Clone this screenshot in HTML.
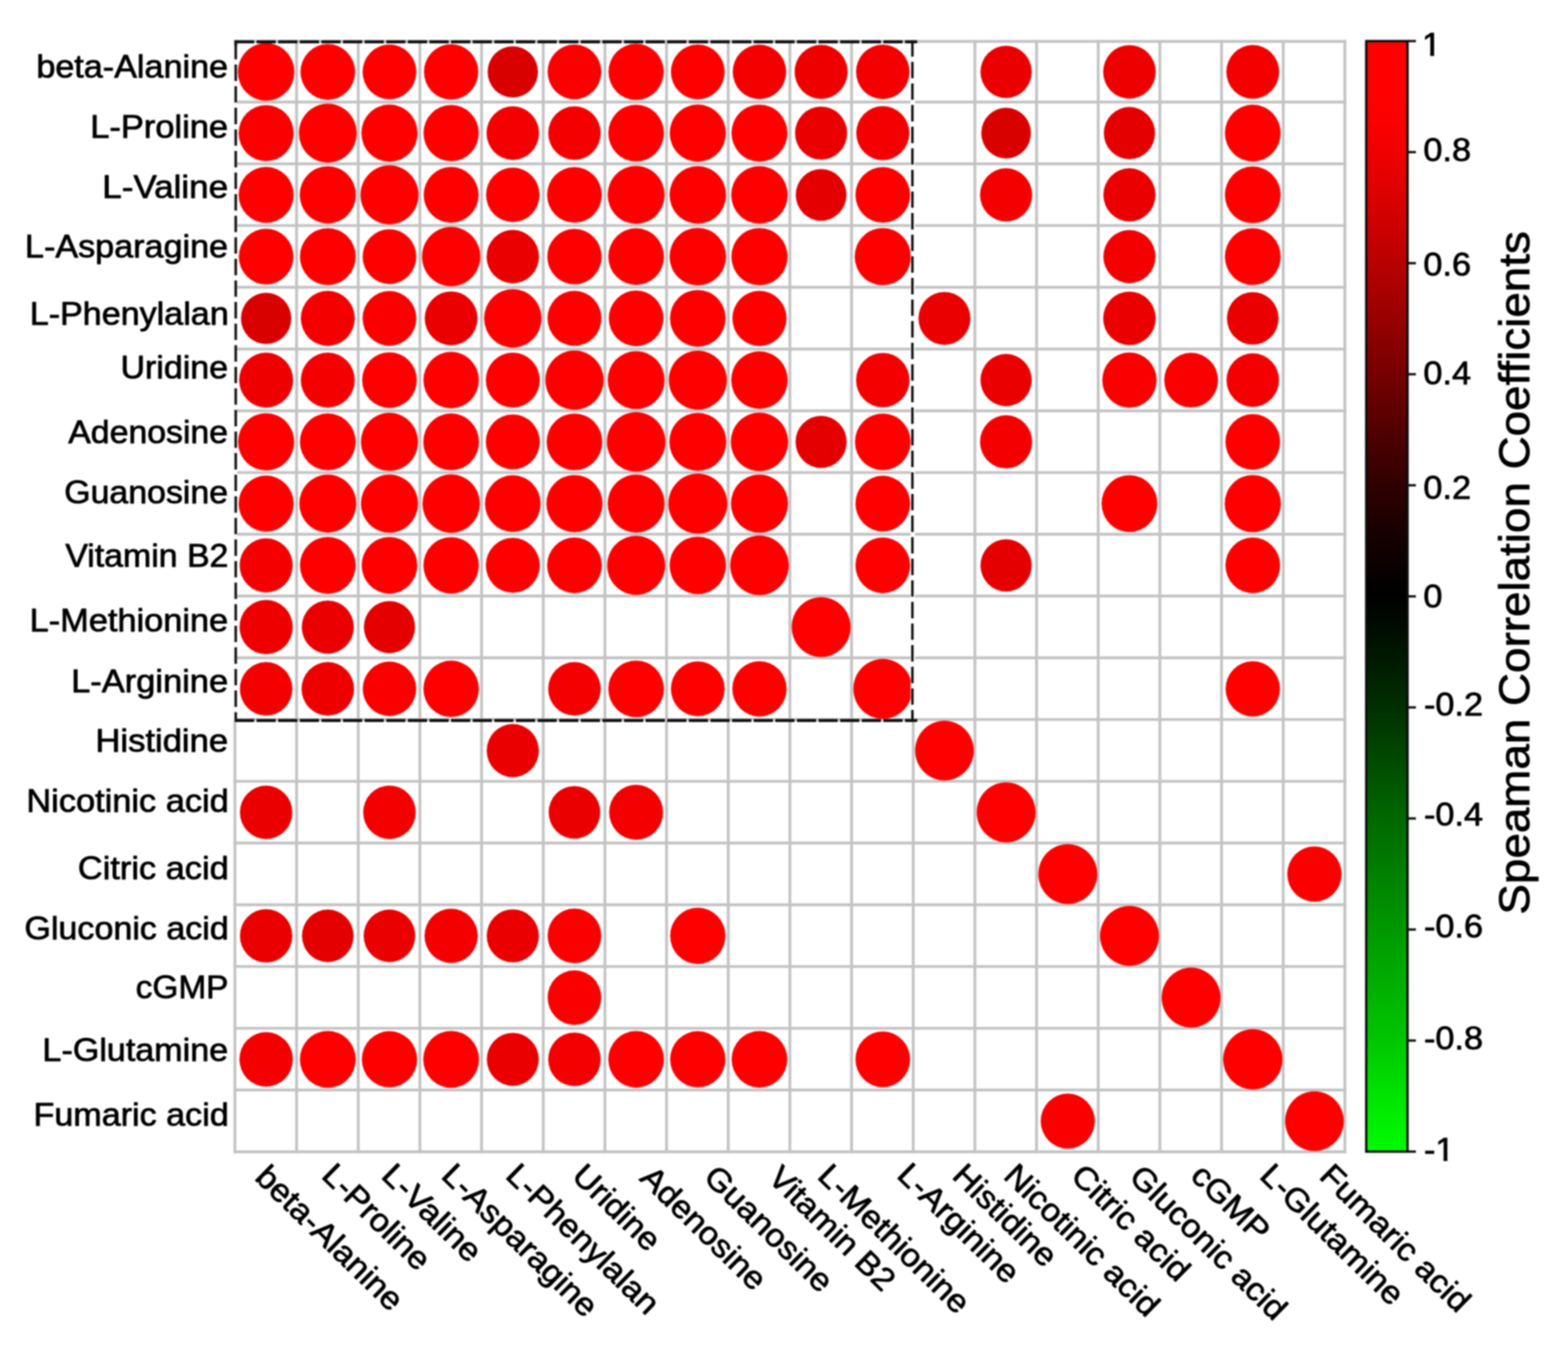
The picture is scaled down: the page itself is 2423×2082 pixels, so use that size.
<!DOCTYPE html>
<html lang="en"><head><meta charset="utf-8">
<title>Speaman Correlation Coefficients</title>
<style>
html,body{margin:0;padding:0;background:#fff;}
body{width:2423px;height:2082px;overflow:hidden;}
svg{display:block;}
text{font-family:"Liberation Sans",sans-serif;fill:#000;stroke:#000;stroke-width:1.1;stroke-linejoin:round;}
</style></head><body>
<svg width="2423" height="2082" viewBox="0 0 2423 2082">
<defs>
<linearGradient id="cb" x1="0" y1="0" x2="0" y2="1">
<stop offset="0.0000" stop-color="rgb(255,0,0)"/>
<stop offset="0.0500" stop-color="rgb(254,0,0)"/>
<stop offset="0.0750" stop-color="rgb(250,0,0)"/>
<stop offset="0.1000" stop-color="rgb(240,0,0)"/>
<stop offset="0.1500" stop-color="rgb(214,0,0)"/>
<stop offset="0.2000" stop-color="rgb(185,0,0)"/>
<stop offset="0.2500" stop-color="rgb(152,0,0)"/>
<stop offset="0.3000" stop-color="rgb(118,0,0)"/>
<stop offset="0.3500" stop-color="rgb(82,0,0)"/>
<stop offset="0.4000" stop-color="rgb(48,0,0)"/>
<stop offset="0.4500" stop-color="rgb(20,0,0)"/>
<stop offset="0.5000" stop-color="rgb(0,0,0)"/>
<stop offset="0.5500" stop-color="rgb(0,22,0)"/>
<stop offset="0.6000" stop-color="rgb(0,48,0)"/>
<stop offset="0.7000" stop-color="rgb(0,104,0)"/>
<stop offset="0.8000" stop-color="rgb(0,152,0)"/>
<stop offset="0.9000" stop-color="rgb(0,198,0)"/>
<stop offset="0.9500" stop-color="rgb(0,228,0)"/>
<stop offset="1.0000" stop-color="rgb(0,252,0)"/>
</linearGradient>
<filter id="soft" x="0" y="0" width="2423" height="2082" filterUnits="userSpaceOnUse" color-interpolation-filters="sRGB"><feGaussianBlur stdDeviation="1.15"/></filter>
</defs>
<rect x="0" y="0" width="2423" height="2082" fill="#ffffff"/>
<g filter="url(#soft)">
<rect x="0" y="0" width="2423" height="2082" fill="#ffffff"/>
<g stroke="#c3c3c3" stroke-width="4.4" fill="none" stroke-linecap="square">
<line x1="363.00" y1="64.00" x2="363.00" y2="1780.22"/>
<line x1="458.29" y1="64.00" x2="458.29" y2="1780.22"/>
<line x1="553.58" y1="64.00" x2="553.58" y2="1780.22"/>
<line x1="648.87" y1="64.00" x2="648.87" y2="1780.22"/>
<line x1="744.16" y1="64.00" x2="744.16" y2="1780.22"/>
<line x1="839.45" y1="64.00" x2="839.45" y2="1780.22"/>
<line x1="934.74" y1="64.00" x2="934.74" y2="1780.22"/>
<line x1="1030.03" y1="64.00" x2="1030.03" y2="1780.22"/>
<line x1="1125.32" y1="64.00" x2="1125.32" y2="1780.22"/>
<line x1="1220.61" y1="64.00" x2="1220.61" y2="1780.22"/>
<line x1="1315.90" y1="64.00" x2="1315.90" y2="1780.22"/>
<line x1="1411.19" y1="64.00" x2="1411.19" y2="1780.22"/>
<line x1="1506.48" y1="64.00" x2="1506.48" y2="1780.22"/>
<line x1="1601.77" y1="64.00" x2="1601.77" y2="1780.22"/>
<line x1="1697.06" y1="64.00" x2="1697.06" y2="1780.22"/>
<line x1="1792.35" y1="64.00" x2="1792.35" y2="1780.22"/>
<line x1="1887.64" y1="64.00" x2="1887.64" y2="1780.22"/>
<line x1="1982.93" y1="64.00" x2="1982.93" y2="1780.22"/>
<line x1="2078.22" y1="64.00" x2="2078.22" y2="1780.22"/>
<line x1="363.00" y1="64.00" x2="2078.22" y2="64.00"/>
<line x1="363.00" y1="157.74" x2="2078.22" y2="157.74"/>
<line x1="363.00" y1="253.18" x2="2078.22" y2="253.18"/>
<line x1="363.00" y1="348.62" x2="2078.22" y2="348.62"/>
<line x1="363.00" y1="444.06" x2="2078.22" y2="444.06"/>
<line x1="363.00" y1="539.50" x2="2078.22" y2="539.50"/>
<line x1="363.00" y1="634.94" x2="2078.22" y2="634.94"/>
<line x1="363.00" y1="730.38" x2="2078.22" y2="730.38"/>
<line x1="363.00" y1="825.82" x2="2078.22" y2="825.82"/>
<line x1="363.00" y1="921.26" x2="2078.22" y2="921.26"/>
<line x1="363.00" y1="1016.70" x2="2078.22" y2="1016.70"/>
<line x1="363.00" y1="1112.14" x2="2078.22" y2="1112.14"/>
<line x1="363.00" y1="1207.58" x2="2078.22" y2="1207.58"/>
<line x1="363.00" y1="1303.02" x2="2078.22" y2="1303.02"/>
<line x1="363.00" y1="1398.46" x2="2078.22" y2="1398.46"/>
<line x1="363.00" y1="1493.90" x2="2078.22" y2="1493.90"/>
<line x1="363.00" y1="1589.34" x2="2078.22" y2="1589.34"/>
<line x1="363.00" y1="1684.78" x2="2078.22" y2="1684.78"/>
<line x1="363.00" y1="1780.22" x2="2078.22" y2="1780.22"/>
</g>
<g>
<ellipse cx="411.25" cy="111.12" rx="43.70" ry="44.50" fill="rgb(254,0,0)"/>
<ellipse cx="506.54" cy="111.12" rx="42.25" ry="43.05" fill="rgb(254,0,0)"/>
<ellipse cx="601.83" cy="111.12" rx="41.55" ry="42.35" fill="rgb(254,0,0)"/>
<ellipse cx="697.12" cy="111.12" rx="42.00" ry="42.80" fill="rgb(254,0,0)"/>
<ellipse cx="792.41" cy="111.12" rx="38.90" ry="39.70" fill="rgb(217,0,0)"/>
<ellipse cx="887.70" cy="111.12" rx="41.50" ry="42.30" fill="rgb(250,0,0)"/>
<ellipse cx="982.99" cy="111.12" rx="42.70" ry="43.50" fill="rgb(254,0,0)"/>
<ellipse cx="1078.28" cy="111.12" rx="41.55" ry="42.35" fill="rgb(254,0,0)"/>
<ellipse cx="1173.57" cy="111.12" rx="41.30" ry="42.10" fill="rgb(244,0,0)"/>
<ellipse cx="1268.86" cy="111.12" rx="41.00" ry="41.80" fill="rgb(239,0,0)"/>
<ellipse cx="1364.14" cy="111.12" rx="41.30" ry="42.10" fill="rgb(244,0,0)"/>
<ellipse cx="1554.72" cy="111.12" rx="39.60" ry="40.40" fill="rgb(234,0,0)"/>
<ellipse cx="1745.31" cy="111.12" rx="40.60" ry="41.40" fill="rgb(239,0,0)"/>
<ellipse cx="1935.88" cy="111.12" rx="40.85" ry="41.65" fill="rgb(244,0,0)"/>
<ellipse cx="411.25" cy="205.76" rx="42.55" ry="43.35" fill="rgb(250,0,0)"/>
<ellipse cx="506.54" cy="205.76" rx="44.65" ry="45.45" fill="rgb(254,0,0)"/>
<ellipse cx="601.83" cy="205.76" rx="43.40" ry="44.20" fill="rgb(254,0,0)"/>
<ellipse cx="697.12" cy="205.76" rx="42.70" ry="43.50" fill="rgb(254,0,0)"/>
<ellipse cx="792.41" cy="205.76" rx="40.60" ry="41.40" fill="rgb(244,0,0)"/>
<ellipse cx="887.70" cy="205.76" rx="40.60" ry="41.40" fill="rgb(244,0,0)"/>
<ellipse cx="982.99" cy="205.76" rx="43.00" ry="43.80" fill="rgb(254,0,0)"/>
<ellipse cx="1078.28" cy="205.76" rx="43.40" ry="44.20" fill="rgb(254,0,0)"/>
<ellipse cx="1173.57" cy="205.76" rx="43.25" ry="44.05" fill="rgb(254,0,0)"/>
<ellipse cx="1268.86" cy="205.76" rx="40.30" ry="41.10" fill="rgb(234,0,0)"/>
<ellipse cx="1364.14" cy="205.76" rx="41.00" ry="41.80" fill="rgb(244,0,0)"/>
<ellipse cx="1554.72" cy="205.76" rx="38.40" ry="39.20" fill="rgb(217,0,0)"/>
<ellipse cx="1745.31" cy="205.76" rx="39.60" ry="40.40" fill="rgb(229,0,0)"/>
<ellipse cx="1935.88" cy="205.76" rx="43.10" ry="43.90" fill="rgb(254,0,0)"/>
<ellipse cx="411.25" cy="301.20" rx="42.50" ry="43.30" fill="rgb(254,0,0)"/>
<ellipse cx="506.54" cy="301.20" rx="43.40" ry="44.20" fill="rgb(254,0,0)"/>
<ellipse cx="601.83" cy="301.20" rx="44.80" ry="45.60" fill="rgb(254,0,0)"/>
<ellipse cx="697.12" cy="301.20" rx="42.40" ry="43.20" fill="rgb(254,0,0)"/>
<ellipse cx="792.41" cy="301.20" rx="41.30" ry="42.10" fill="rgb(254,0,0)"/>
<ellipse cx="887.70" cy="301.20" rx="42.25" ry="43.05" fill="rgb(254,0,0)"/>
<ellipse cx="982.99" cy="301.20" rx="44.00" ry="44.80" fill="rgb(254,0,0)"/>
<ellipse cx="1078.28" cy="301.20" rx="43.65" ry="44.45" fill="rgb(254,0,0)"/>
<ellipse cx="1173.57" cy="301.20" rx="43.65" ry="44.45" fill="rgb(254,0,0)"/>
<ellipse cx="1268.86" cy="301.20" rx="39.20" ry="40.00" fill="rgb(229,0,0)"/>
<ellipse cx="1364.14" cy="301.20" rx="42.25" ry="43.05" fill="rgb(254,0,0)"/>
<ellipse cx="1554.72" cy="301.20" rx="40.30" ry="41.10" fill="rgb(244,0,0)"/>
<ellipse cx="1745.31" cy="301.20" rx="40.30" ry="41.10" fill="rgb(234,0,0)"/>
<ellipse cx="1935.88" cy="301.20" rx="43.10" ry="43.90" fill="rgb(254,0,0)"/>
<ellipse cx="411.25" cy="396.64" rx="42.25" ry="43.05" fill="rgb(254,0,0)"/>
<ellipse cx="506.54" cy="396.64" rx="43.10" ry="43.90" fill="rgb(254,0,0)"/>
<ellipse cx="601.83" cy="396.64" rx="41.50" ry="42.30" fill="rgb(254,0,0)"/>
<ellipse cx="697.12" cy="396.64" rx="45.00" ry="45.80" fill="rgb(254,0,0)"/>
<ellipse cx="792.41" cy="396.64" rx="40.50" ry="41.30" fill="rgb(234,0,0)"/>
<ellipse cx="887.70" cy="396.64" rx="42.00" ry="42.80" fill="rgb(254,0,0)"/>
<ellipse cx="982.99" cy="396.64" rx="43.00" ry="43.80" fill="rgb(254,0,0)"/>
<ellipse cx="1078.28" cy="396.64" rx="43.65" ry="44.45" fill="rgb(254,0,0)"/>
<ellipse cx="1173.57" cy="396.64" rx="43.40" ry="44.20" fill="rgb(254,0,0)"/>
<ellipse cx="1364.14" cy="396.64" rx="43.40" ry="44.20" fill="rgb(254,0,0)"/>
<ellipse cx="1745.31" cy="396.64" rx="40.30" ry="41.10" fill="rgb(244,0,0)"/>
<ellipse cx="1935.88" cy="396.64" rx="43.10" ry="43.90" fill="rgb(254,0,0)"/>
<ellipse cx="411.25" cy="492.08" rx="38.90" ry="39.70" fill="rgb(217,0,0)"/>
<ellipse cx="506.54" cy="492.08" rx="41.70" ry="42.50" fill="rgb(244,0,0)"/>
<ellipse cx="601.83" cy="492.08" rx="41.55" ry="42.35" fill="rgb(250,0,0)"/>
<ellipse cx="697.12" cy="492.08" rx="40.85" ry="41.65" fill="rgb(234,0,0)"/>
<ellipse cx="792.41" cy="492.08" rx="44.35" ry="45.15" fill="rgb(254,0,0)"/>
<ellipse cx="887.70" cy="492.08" rx="41.70" ry="42.50" fill="rgb(254,0,0)"/>
<ellipse cx="982.99" cy="492.08" rx="42.25" ry="43.05" fill="rgb(254,0,0)"/>
<ellipse cx="1078.28" cy="492.08" rx="43.00" ry="43.80" fill="rgb(254,0,0)"/>
<ellipse cx="1173.57" cy="492.08" rx="41.85" ry="42.65" fill="rgb(254,0,0)"/>
<ellipse cx="1459.43" cy="492.08" rx="40.15" ry="40.95" fill="rgb(234,0,0)"/>
<ellipse cx="1745.31" cy="492.08" rx="40.60" ry="41.40" fill="rgb(234,0,0)"/>
<ellipse cx="1935.88" cy="492.08" rx="39.90" ry="40.70" fill="rgb(234,0,0)"/>
<ellipse cx="411.25" cy="587.52" rx="41.70" ry="42.50" fill="rgb(239,0,0)"/>
<ellipse cx="506.54" cy="587.52" rx="41.70" ry="42.50" fill="rgb(244,0,0)"/>
<ellipse cx="601.83" cy="587.52" rx="42.25" ry="43.05" fill="rgb(254,0,0)"/>
<ellipse cx="697.12" cy="587.52" rx="42.85" ry="43.65" fill="rgb(254,0,0)"/>
<ellipse cx="792.41" cy="587.52" rx="41.70" ry="42.50" fill="rgb(254,0,0)"/>
<ellipse cx="887.70" cy="587.52" rx="45.00" ry="45.80" fill="rgb(254,0,0)"/>
<ellipse cx="982.99" cy="587.52" rx="44.00" ry="44.80" fill="rgb(254,0,0)"/>
<ellipse cx="1078.28" cy="587.52" rx="44.80" ry="45.60" fill="rgb(254,0,0)"/>
<ellipse cx="1173.57" cy="587.52" rx="43.65" ry="44.45" fill="rgb(254,0,0)"/>
<ellipse cx="1364.14" cy="587.52" rx="41.30" ry="42.10" fill="rgb(244,0,0)"/>
<ellipse cx="1554.72" cy="587.52" rx="39.60" ry="40.40" fill="rgb(234,0,0)"/>
<ellipse cx="1745.31" cy="587.52" rx="42.00" ry="42.80" fill="rgb(250,0,0)"/>
<ellipse cx="1840.60" cy="587.52" rx="41.55" ry="42.35" fill="rgb(250,0,0)"/>
<ellipse cx="1935.88" cy="587.52" rx="40.60" ry="41.40" fill="rgb(244,0,0)"/>
<ellipse cx="411.25" cy="682.96" rx="43.40" ry="44.20" fill="rgb(254,0,0)"/>
<ellipse cx="506.54" cy="682.96" rx="43.10" ry="43.90" fill="rgb(254,0,0)"/>
<ellipse cx="601.83" cy="682.96" rx="44.10" ry="44.90" fill="rgb(254,0,0)"/>
<ellipse cx="697.12" cy="682.96" rx="43.10" ry="43.90" fill="rgb(254,0,0)"/>
<ellipse cx="792.41" cy="682.96" rx="41.70" ry="42.50" fill="rgb(254,0,0)"/>
<ellipse cx="887.70" cy="682.96" rx="43.00" ry="43.80" fill="rgb(254,0,0)"/>
<ellipse cx="982.99" cy="682.96" rx="45.20" ry="46.00" fill="rgb(254,0,0)"/>
<ellipse cx="1078.28" cy="682.96" rx="44.00" ry="44.80" fill="rgb(254,0,0)"/>
<ellipse cx="1173.57" cy="682.96" rx="44.35" ry="45.15" fill="rgb(254,0,0)"/>
<ellipse cx="1268.86" cy="682.96" rx="39.50" ry="40.30" fill="rgb(229,0,0)"/>
<ellipse cx="1364.14" cy="682.96" rx="43.00" ry="43.80" fill="rgb(254,0,0)"/>
<ellipse cx="1554.72" cy="682.96" rx="40.30" ry="41.10" fill="rgb(244,0,0)"/>
<ellipse cx="1935.88" cy="682.96" rx="42.25" ry="43.05" fill="rgb(254,0,0)"/>
<ellipse cx="411.25" cy="778.40" rx="42.50" ry="43.30" fill="rgb(254,0,0)"/>
<ellipse cx="506.54" cy="778.40" rx="44.00" ry="44.80" fill="rgb(254,0,0)"/>
<ellipse cx="601.83" cy="778.40" rx="44.10" ry="44.90" fill="rgb(254,0,0)"/>
<ellipse cx="697.12" cy="778.40" rx="44.35" ry="45.15" fill="rgb(254,0,0)"/>
<ellipse cx="792.41" cy="778.40" rx="43.00" ry="43.80" fill="rgb(254,0,0)"/>
<ellipse cx="887.70" cy="778.40" rx="43.40" ry="44.20" fill="rgb(254,0,0)"/>
<ellipse cx="982.99" cy="778.40" rx="44.00" ry="44.80" fill="rgb(254,0,0)"/>
<ellipse cx="1078.28" cy="778.40" rx="45.50" ry="46.30" fill="rgb(254,0,0)"/>
<ellipse cx="1173.57" cy="778.40" rx="44.10" ry="44.90" fill="rgb(254,0,0)"/>
<ellipse cx="1364.14" cy="778.40" rx="42.25" ry="43.05" fill="rgb(254,0,0)"/>
<ellipse cx="1745.31" cy="778.40" rx="43.10" ry="43.90" fill="rgb(254,0,0)"/>
<ellipse cx="1935.88" cy="778.40" rx="43.40" ry="44.20" fill="rgb(254,0,0)"/>
<ellipse cx="411.25" cy="873.84" rx="41.00" ry="41.80" fill="rgb(244,0,0)"/>
<ellipse cx="506.54" cy="873.84" rx="43.10" ry="43.90" fill="rgb(254,0,0)"/>
<ellipse cx="601.83" cy="873.84" rx="43.00" ry="43.80" fill="rgb(254,0,0)"/>
<ellipse cx="697.12" cy="873.84" rx="42.85" ry="43.65" fill="rgb(254,0,0)"/>
<ellipse cx="792.41" cy="873.84" rx="41.70" ry="42.50" fill="rgb(254,0,0)"/>
<ellipse cx="887.70" cy="873.84" rx="42.25" ry="43.05" fill="rgb(254,0,0)"/>
<ellipse cx="982.99" cy="873.84" rx="44.80" ry="45.60" fill="rgb(254,0,0)"/>
<ellipse cx="1078.28" cy="873.84" rx="43.65" ry="44.45" fill="rgb(254,0,0)"/>
<ellipse cx="1173.57" cy="873.84" rx="45.20" ry="46.00" fill="rgb(254,0,0)"/>
<ellipse cx="1364.14" cy="873.84" rx="42.25" ry="43.05" fill="rgb(254,0,0)"/>
<ellipse cx="1554.72" cy="873.84" rx="39.60" ry="40.40" fill="rgb(229,0,0)"/>
<ellipse cx="1935.88" cy="873.84" rx="42.25" ry="43.05" fill="rgb(254,0,0)"/>
<ellipse cx="411.25" cy="969.28" rx="41.15" ry="41.95" fill="rgb(239,0,0)"/>
<ellipse cx="506.54" cy="969.28" rx="40.25" ry="41.05" fill="rgb(234,0,0)"/>
<ellipse cx="601.83" cy="969.28" rx="39.55" ry="40.35" fill="rgb(229,0,0)"/>
<ellipse cx="1268.86" cy="969.28" rx="45.50" ry="46.30" fill="rgb(254,0,0)"/>
<ellipse cx="411.25" cy="1064.72" rx="40.60" ry="41.40" fill="rgb(244,0,0)"/>
<ellipse cx="506.54" cy="1064.72" rx="40.60" ry="41.40" fill="rgb(239,0,0)"/>
<ellipse cx="601.83" cy="1064.72" rx="41.30" ry="42.10" fill="rgb(250,0,0)"/>
<ellipse cx="697.12" cy="1064.72" rx="42.85" ry="43.65" fill="rgb(254,0,0)"/>
<ellipse cx="887.70" cy="1064.72" rx="40.60" ry="41.40" fill="rgb(244,0,0)"/>
<ellipse cx="982.99" cy="1064.72" rx="43.00" ry="43.80" fill="rgb(254,0,0)"/>
<ellipse cx="1078.28" cy="1064.72" rx="41.55" ry="42.35" fill="rgb(254,0,0)"/>
<ellipse cx="1173.57" cy="1064.72" rx="42.00" ry="42.80" fill="rgb(254,0,0)"/>
<ellipse cx="1364.14" cy="1064.72" rx="45.50" ry="46.30" fill="rgb(254,0,0)"/>
<ellipse cx="1935.88" cy="1064.72" rx="42.00" ry="42.80" fill="rgb(254,0,0)"/>
<ellipse cx="792.41" cy="1160.16" rx="40.30" ry="41.10" fill="rgb(234,0,0)"/>
<ellipse cx="1459.43" cy="1160.16" rx="45.35" ry="46.15" fill="rgb(254,0,0)"/>
<ellipse cx="411.25" cy="1255.60" rx="40.50" ry="41.30" fill="rgb(234,0,0)"/>
<ellipse cx="601.83" cy="1255.60" rx="40.60" ry="41.40" fill="rgb(244,0,0)"/>
<ellipse cx="887.70" cy="1255.60" rx="39.90" ry="40.70" fill="rgb(234,0,0)"/>
<ellipse cx="982.99" cy="1255.60" rx="41.70" ry="42.50" fill="rgb(244,0,0)"/>
<ellipse cx="1554.72" cy="1255.60" rx="45.50" ry="46.30" fill="rgb(254,0,0)"/>
<ellipse cx="1650.02" cy="1351.04" rx="45.50" ry="46.30" fill="rgb(254,0,0)"/>
<ellipse cx="2031.17" cy="1351.04" rx="42.00" ry="42.80" fill="rgb(250,0,0)"/>
<ellipse cx="411.25" cy="1446.48" rx="40.50" ry="41.30" fill="rgb(234,0,0)"/>
<ellipse cx="506.54" cy="1446.48" rx="39.90" ry="40.70" fill="rgb(229,0,0)"/>
<ellipse cx="601.83" cy="1446.48" rx="39.90" ry="40.70" fill="rgb(234,0,0)"/>
<ellipse cx="697.12" cy="1446.48" rx="41.15" ry="41.95" fill="rgb(244,0,0)"/>
<ellipse cx="792.41" cy="1446.48" rx="40.30" ry="41.10" fill="rgb(234,0,0)"/>
<ellipse cx="887.70" cy="1446.48" rx="41.45" ry="42.25" fill="rgb(250,0,0)"/>
<ellipse cx="1078.28" cy="1446.48" rx="42.70" ry="43.50" fill="rgb(254,0,0)"/>
<ellipse cx="1745.31" cy="1446.48" rx="45.50" ry="46.30" fill="rgb(254,0,0)"/>
<ellipse cx="887.70" cy="1541.92" rx="41.45" ry="42.25" fill="rgb(250,0,0)"/>
<ellipse cx="1840.60" cy="1541.92" rx="45.50" ry="46.30" fill="rgb(254,0,0)"/>
<ellipse cx="411.25" cy="1637.36" rx="41.30" ry="42.10" fill="rgb(244,0,0)"/>
<ellipse cx="506.54" cy="1637.36" rx="43.10" ry="43.90" fill="rgb(254,0,0)"/>
<ellipse cx="601.83" cy="1637.36" rx="42.70" ry="43.50" fill="rgb(254,0,0)"/>
<ellipse cx="697.12" cy="1637.36" rx="43.10" ry="43.90" fill="rgb(254,0,0)"/>
<ellipse cx="792.41" cy="1637.36" rx="40.15" ry="40.95" fill="rgb(234,0,0)"/>
<ellipse cx="887.70" cy="1637.36" rx="40.60" ry="41.40" fill="rgb(244,0,0)"/>
<ellipse cx="982.99" cy="1637.36" rx="43.00" ry="43.80" fill="rgb(254,0,0)"/>
<ellipse cx="1078.28" cy="1637.36" rx="42.70" ry="43.50" fill="rgb(254,0,0)"/>
<ellipse cx="1173.57" cy="1637.36" rx="43.00" ry="43.80" fill="rgb(254,0,0)"/>
<ellipse cx="1364.14" cy="1637.36" rx="42.25" ry="43.05" fill="rgb(254,0,0)"/>
<ellipse cx="1935.88" cy="1637.36" rx="45.75" ry="46.55" fill="rgb(254,0,0)"/>
<ellipse cx="1650.02" cy="1732.80" rx="41.85" ry="42.65" fill="rgb(250,0,0)"/>
<ellipse cx="2031.17" cy="1732.80" rx="45.35" ry="46.15" fill="rgb(254,0,0)"/>
</g>
<g fill="none" stroke-linecap="butt">
<line x1="363.70" y1="62.30" x2="363.70" y2="1116.00" stroke="#fff" stroke-width="5.6"/>
<line x1="1410.40" y1="62.30" x2="1410.40" y2="1116.00" stroke="#fff" stroke-width="6.6"/>
<line x1="362.10" y1="64.60" x2="1417.40" y2="64.60" stroke="#111" stroke-width="4.6" stroke-dasharray="29.8 3.6" stroke-dashoffset="32.50"/>
<line x1="362.10" y1="1113.60" x2="1417.40" y2="1113.60" stroke="#111" stroke-width="4.8" stroke-dasharray="29.8 3.6" stroke-dashoffset="32.50"/>
<line x1="364.30" y1="62.30" x2="364.30" y2="1116.00" stroke="#111" stroke-width="3.9" stroke-dasharray="25.36 8" stroke-dashoffset="29.16"/>
<line x1="1409.90" y1="62.30" x2="1409.90" y2="1116.00" stroke="#111" stroke-width="3.8" stroke-dasharray="25.39 8" stroke-dashoffset="33.49"/>
<line x1="364.30" y1="62.30" x2="364.30" y2="70.30" stroke="#111" stroke-width="4.4"/>
<line x1="1409.90" y1="1102.00" x2="1409.90" y2="1116.00" stroke="#111" stroke-width="3.8"/>
</g>
<g font-size="49.5" text-anchor="start">
<text transform="translate(56.13 119.50) scale(1.0663 1)">beta-Alanine</text>
<text transform="translate(139.44 212.60) scale(1.0757 1)">L-Proline</text>
<text transform="translate(158.07 305.80) scale(1.0930 1)">L-Valine</text>
<text transform="translate(38.58 397.50) scale(1.0662 1)">L-Asparagine</text>
<text transform="translate(45.88 501.80) scale(1.0648 1)">L-Phenylalan</text>
<text transform="translate(186.23 585.30) scale(1.0603 1)">Uridine</text>
<text transform="translate(105.50 685.20) scale(1.0558 1)">Adenosine</text>
<text transform="translate(99.28 777.50) scale(1.0576 1)">Guanosine</text>
<text transform="translate(100.90 876.00) scale(1.0573 1)">Vitamin B2</text>
<text transform="translate(45.86 976.10) scale(1.0716 1)">L-Methionine</text>
<text transform="translate(110.04 1069.70) scale(1.0747 1)">L-Arginine</text>
<text transform="translate(147.42 1162.40) scale(1.0805 1)">Histidine</text>
<text transform="translate(40.75 1254.70) scale(1.0728 1)">Nicotinic acid</text>
<text transform="translate(120.34 1358.70) scale(1.0734 1)">Citric acid</text>
<text transform="translate(37.77 1452.40) scale(1.0627 1)">Gluconic acid</text>
<text transform="translate(209.84 1542.50) scale(1.0413 1)">cGMP</text>
<text transform="translate(65.59 1640.20) scale(1.0642 1)">L-Glutamine</text>
<text transform="translate(51.78 1740.20) scale(1.0652 1)">Fumaric acid</text>
</g>
<g font-size="49.5" text-anchor="start">
<text transform="translate(391.93 1821.93) rotate(44.4) scale(1.0650 1)">beta-Alanine</text>
<text transform="translate(495.11 1819.01) rotate(44.4) scale(1.0650 1)">L-Proline</text>
<text transform="translate(587.36 1819.37) rotate(44.4) scale(1.0800 1)">L-Valine</text>
<text transform="translate(679.99 1819.21) rotate(44.4) scale(1.0650 1)">L-Asparagine</text>
<text transform="translate(779.28 1819.21) rotate(44.4) scale(1.0650 1)">L-Phenylalan</text>
<text transform="translate(881.77 1820.00) rotate(44.4) scale(1.0650 1)">Uridine</text>
<text transform="translate(986.70 1822.99) rotate(44.4) scale(1.0650 1)">Adenosine</text>
<text transform="translate(1085.37 1822.00) rotate(44.4) scale(1.0650 1)">Guanosine</text>
<text transform="translate(1184.68 1822.99) rotate(44.4) scale(1.0500 1)">Vitamin B2</text>
<text transform="translate(1261.23 1820.01) rotate(44.4) scale(1.0650 1)">L-Methionine</text>
<text transform="translate(1384.12 1818.51) rotate(44.4) scale(1.0650 1)">L-Arginine</text>
<text transform="translate(1469.41 1819.51) rotate(44.4) scale(1.0650 1)">Histidine</text>
<text transform="translate(1548.79 1819.69) rotate(44.4) scale(1.0700 1)">Nicotinic acid</text>
<text transform="translate(1652.39 1820.18) rotate(44.4) scale(1.0750 1)">Citric acid</text>
<text transform="translate(1742.70 1821.80) rotate(44.4) scale(1.0650 1)">Gluconic acid</text>
<text transform="translate(1837.69 1820.00) rotate(44.4) scale(1.0650 1)">cGMP</text>
<text transform="translate(1944.56 1819.51) rotate(44.4) scale(1.0650 1)">L-Glutamine</text>
<text transform="translate(2036.85 1820.01) rotate(44.4) scale(1.0650 1)">Fumaric acid</text>
</g>
<rect x="2111.20" y="63.50" width="63.80" height="1716.50" fill="url(#cb)" stroke="#0a0a0a" stroke-width="3.6"/>
<g stroke="#111" stroke-width="3.6">
<line x1="2175.00" y1="63.50" x2="2188.00" y2="63.50"/>
<line x1="2175.00" y1="235.15" x2="2188.00" y2="235.15"/>
<line x1="2175.00" y1="406.80" x2="2188.00" y2="406.80"/>
<line x1="2175.00" y1="578.45" x2="2188.00" y2="578.45"/>
<line x1="2175.00" y1="750.10" x2="2188.00" y2="750.10"/>
<line x1="2175.00" y1="921.75" x2="2188.00" y2="921.75"/>
<line x1="2175.00" y1="1093.40" x2="2188.00" y2="1093.40"/>
<line x1="2175.00" y1="1265.05" x2="2188.00" y2="1265.05"/>
<line x1="2175.00" y1="1436.70" x2="2188.00" y2="1436.70"/>
<line x1="2175.00" y1="1608.35" x2="2188.00" y2="1608.35"/>
<line x1="2175.00" y1="1780.00" x2="2188.00" y2="1780.00"/>
</g>
<g font-size="49.5" text-anchor="start">
<text transform="translate(2197.49 86.20) scale(1.0700 1)">1</text>
<g transform="translate(2197.49 86.20) scale(1.0700 1)" fill="#fff"><rect x="0.76" y="-5.31" width="10.96" height="7.71"/><rect x="17.48" y="-5.31" width="10.57" height="7.71"/></g>
<text transform="translate(2199.61 249.15) scale(1.0700 1)">0.8</text>
<text transform="translate(2199.61 425.50) scale(1.0700 1)">0.6</text>
<text transform="translate(2199.61 594.45) scale(1.0700 1)">0.4</text>
<text transform="translate(2199.61 771.10) scale(1.0700 1)">0.2</text>
<text transform="translate(2199.61 938.75) scale(1.0700 1)">0</text>
<text transform="translate(2200.38 1106.40) scale(1.0700 1)">-0.2</text>
<text transform="translate(2200.38 1275.85) scale(1.0700 1)">-0.4</text>
<text transform="translate(2200.38 1449.10) scale(1.0700 1)">-0.6</text>
<text transform="translate(2200.38 1621.65) scale(1.0700 1)">-0.8</text>
<text transform="translate(2200.38 1793.70) scale(1.0700 1)">-1</text>
<g transform="translate(2200.38 1793.70) scale(1.0700 1)" fill="#fff"><rect x="17.25" y="-5.31" width="10.96" height="7.71"/><rect x="33.96" y="-5.31" width="10.57" height="7.71"/></g>
</g>
<text font-size="67.5" text-anchor="start" transform="translate(2362.80 1413.63) rotate(-90) scale(1.0481 1)">Speaman Correlation Coefficients</text>
</g>
</svg>
</body></html>
